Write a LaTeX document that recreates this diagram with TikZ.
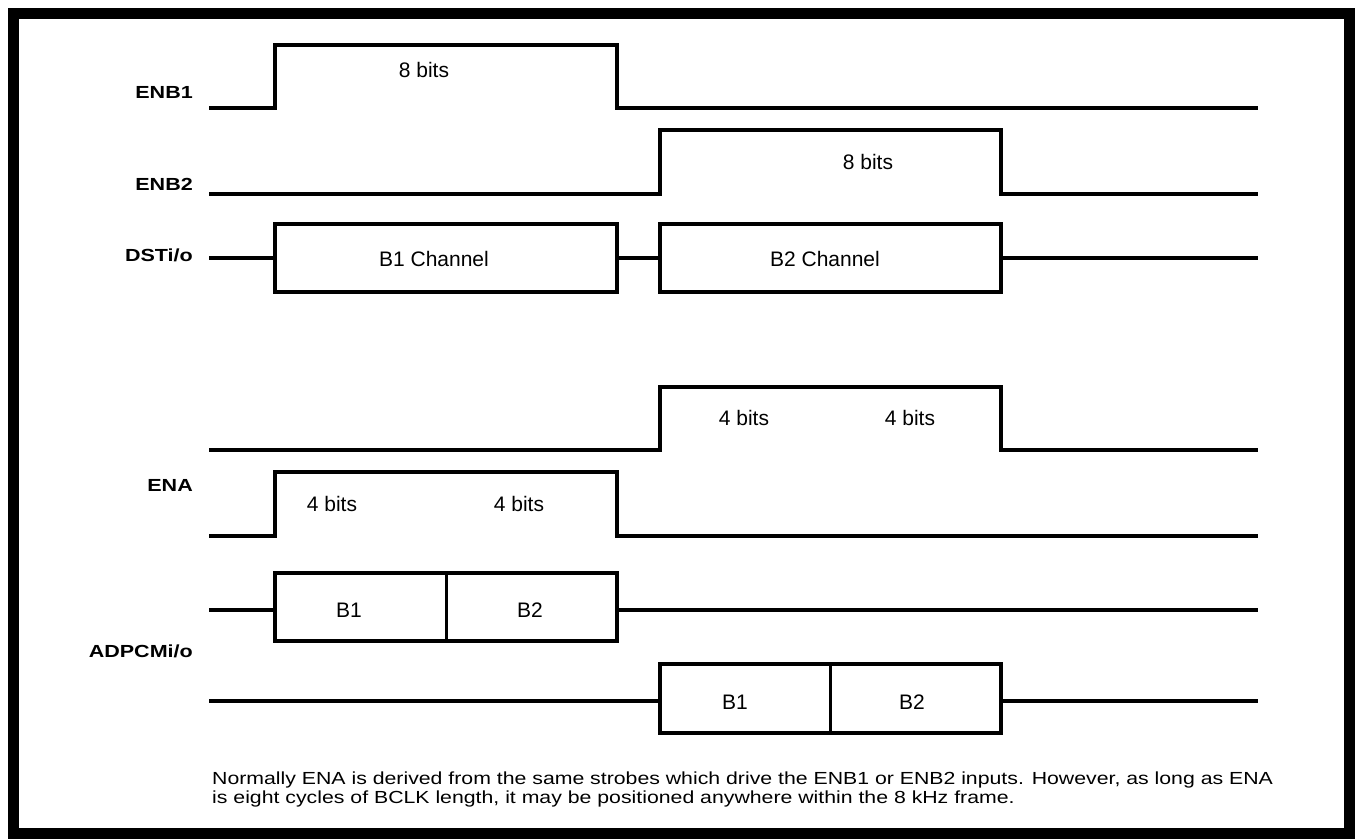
\documentclass[tikz,border=0pt]{standalone}
\usepackage{fontspec}
\setmainfont{Liberation Sans}
\newfontfamily\sigfont[FakeStretch=1.23]{Liberation Sans}
\newfontfamily\notefont[FakeStretch=1.215]{Liberation Sans}
\usetikzlibrary{positioning}
\tikzset{x=1pt ,y=-1pt ,inner sep=0pt ,
wave/.style ={line width=4pt ,line join=miter},
cell/.style ={line width=3pt},
signal/.style ={anchor=base east ,font=\sigfont\bfseries\fontsize{17.5}{20}\selectfont},
bits/.style ={anchor=base ,font=\fontsize{21}{24}\selectfont},
remark/.style ={anchor=base west ,font=\notefont\fontsize{17.5}{19}\selectfont}}

\begin{document}
\begin{tikzpicture}
\useasboundingbox (0,0) rectangle (1358,840);
\draw[line width=11pt] (13.5,13.5) rectangle (1349.5,833.5);
% signal names
\node[signal] (enbone) at (193,99) {ENB1};
\node[signal] (enbtwo) at (193,190) {ENB2};
\node[signal] (dst) at (193,261) {DSTi/o};
\node[signal] (ena) at (193,491) {ENA};
\node[signal] (adpcm) at (193,657) {ADPCMi/o};
% ENB1 and ENB2
\draw[wave] (209,108.5) -- (275,108.5) -- (275,45) -- (617,45) -- (617,108.5) -- (1258,108.5);
\node[bits] (bitsone) at (424,78) {8 bits};
\draw[wave] (209,194) -- (660,194) -- (660,130) -- (1001,130) -- (1001,194) -- (1258,194);
\node[bits] (bitstwo) at (868,170) {8 bits};
% DSTi/o
\draw[wave] (209,257.5) -- (275,257.5) (617,257.5) -- (660,257.5) (1001,257.5) -- (1258,257.5);
\draw[wave] (275,224) rectangle (617,292);
\draw[wave] (660,224) rectangle (1001,292);
\node[bits] (chone) at (434,266) {B1 Channel};
\node[bits] (chtwo) at (825,266) {B2 Channel};
% ENA, second frame and first frame
\draw[wave] (209,450) -- (660,450) -- (660,387) -- (1001,387) -- (1001,450) -- (1258,450);
\node[bits] (nibc) at (744,425) {4 bits};
\node[bits] (nibd) at (910,425) {4 bits};
\draw[wave] (209,536) -- (275,536) -- (275,472) -- (617,472) -- (617,536) -- (1258,536);
\node[bits] (niba) at (332,511) {4 bits};
\node[bits] (nibb) at (519,511) {4 bits};
% ADPCMi/o
\draw[wave] (209,610) -- (275,610) (617,610) -- (1258,610);
\draw[wave] (275,573) rectangle (617,641);
\draw[cell] (446,573) -- (446,641);
\node[bits] (adone) at (349,617) {B1};
\node[bits] (adtwo) at (530,617) {B2};
\draw[wave] (209,701) -- (660,701) (1001,701) -- (1258,701);
\draw[wave] (660,664) rectangle (1001,733);
\draw[cell] (830,664) -- (830,733);
\node[bits] (adthree) at (735,709) {B1};
\node[bits] (adfour) at (912,709) {B2};
% note
\node[remark] (noteone) at (212,784) {Normally ENA is derived from the same strobes which drive the ENB1 or ENB2 inputs. However, as long as ENA};
\node[remark] (notetwo) at (212,803) {is eight cycles of BCLK length, it may be positioned anywhere within the 8 kHz frame.};
\end{tikzpicture}
\end{document}
